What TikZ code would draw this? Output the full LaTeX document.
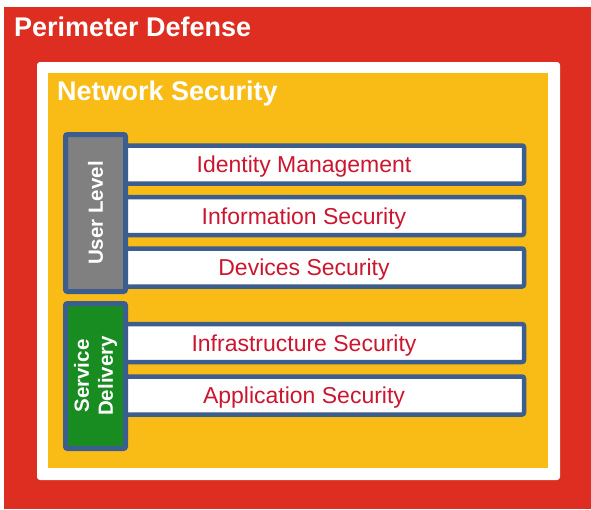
\documentclass[tikz,border=0pt]{standalone}
\usepackage{fontspec}
\setmainfont{Liberation Sans}
\definecolor{PerimRed}{RGB}{221,46,33}
\definecolor{NetYellow}{RGB}{249,188,22}
\definecolor{FrameBlue}{RGB}{60,94,142}
\definecolor{LevelGray}{RGB}{128,128,128}
\definecolor{DeliveryGreen}{RGB}{24,140,32}
\definecolor{LabelRed}{RGB}{204,22,48}
\usetikzlibrary{positioning}

\begin{document}
\begin{tikzpicture}[x=1pt,y=-1pt,node distance=9pt,
  layer/.style={draw=FrameBlue,line width=4.5pt,rounded corners=2pt,fill=white,
    minimum width=440pt,minimum height=38pt,inner sep=0pt,
    text height=21pt,text depth=5pt,
    font=\fontsize{23}{23}\selectfont,text=LabelRed},
  group/.style={draw=FrameBlue,line width=5pt,rounded corners=2pt,rotate=90,
    minimum height=60pt,inner sep=0pt,align=center,text=white,
    font=\fontsize{20.5}{24}\selectfont\bfseries},
  title/.style={anchor=base west,inner sep=0pt,text=white,
    font=\fontsize{27}{27}\selectfont\bfseries}]
\useasboundingbox (0,0) rectangle (591,509);
% nested zones
\fill[PerimRed] (4,7) rectangle (591,509);
\fill[white,rounded corners=3pt] (37,62) rectangle (560,480);
\fill[NetYellow] (48,73) rectangle (548,468);
\node[title] (perim) at (14,36) {Perimeter Defense};
\node[title] (net) at (57,100) {Network Security};
% security layers
\node[layer] (ident) at (304,164.5) {Identity Management};
\node[layer,below=of ident] (info) {Information Security};
\node[layer,below=of info] (dev) {Devices Security};
\node[layer] (infra) at (304,343) {Infrastructure Security};
\node[layer,below=10pt of infra] (app) {Application Security};
% side groups
\node[group,fill=LevelGray,minimum width=157pt] (user) at (95.5,213) {User Level};
\node[group,fill=DeliveryGreen,minimum width=145pt] (serv) at (95.5,376) {Service\\Delivery};
\end{tikzpicture}
\end{document}
